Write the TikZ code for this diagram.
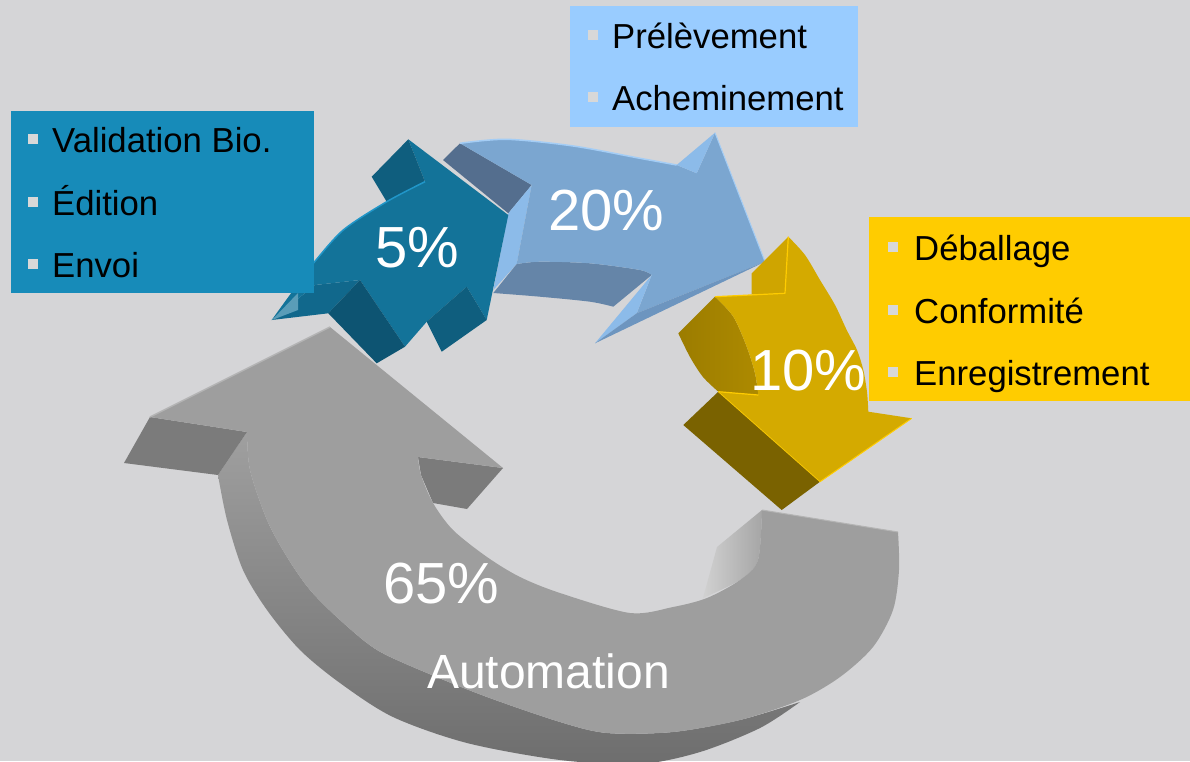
\documentclass[tikz,border=0pt]{standalone}
\usepackage{fontspec}
\setmainfont{Liberation Sans}
\definecolor{bg}{HTML}{D5D5D7}
\definecolor{tealbox}{HTML}{178BB9}
\definecolor{bluebox}{HTML}{99CCFF}
\definecolor{yelbox}{HTML}{FFCC00}
\definecolor{bul}{HTML}{D8D8D8}
\definecolor{gfront}{HTML}{9E9E9E}
\definecolor{gdark}{HTML}{7B7B7B}
\definecolor{gedge}{HTML}{B4B4B4}
\definecolor{tfront}{HTML}{137399}
\definecolor{tdark}{HTML}{0F5E7E}
\definecolor{tdarker}{HTML}{0D5472}
\definecolor{twall}{HTML}{11688C}
\definecolor{tlight}{HTML}{2196C8}
\definecolor{bfront}{HTML}{7BA6D0}
\definecolor{bslate}{HTML}{546E8E}
\definecolor{blight}{HTML}{8CBBE9}
\definecolor{bwall}{HTML}{6585A8}
\definecolor{bband}{HTML}{6D95BF}
\definecolor{bedge}{HTML}{A4CDF5}
\definecolor{yfront}{HTML}{D4AA00}
\definecolor{ynotch}{HTML}{CFA500}
\definecolor{ydark}{HTML}{7A6200}
\definecolor{ywall}{HTML}{AD8A00}
\definecolor{yedge}{HTML}{FFCC00}
\tikzset{
  itemtext/.style={anchor=base west, inner sep=0pt, text=black, font=\fontsize{34.7}{40}\selectfont},
  pcttext/.style={anchor=base west, inner sep=0pt, text=white, font=\fontsize{58}{60}\selectfont},
  autotext/.style={anchor=base west, inner sep=0pt, text=white, font=\fontsize{48}{52}\selectfont},
  bulletsq/.style={fill=bul},
}
\begin{document}
\begin{tikzpicture}[x=1pt,y=-1pt,line join=round]
\useasboundingbox (0,0) rectangle (1190,761);
\fill[bg] (0,0) rectangle (1190,761);

% ---------------- gray arrow (65%) ----------------
\shade[top color=gray!75, middle color=black!60, bottom color=black!57]
  (247,432) -- (218,475) -- plot[smooth] coordinates {(218,475) (227,520) (243,570) (267,610) (300,650) (340,683) (393,717) (467,743) (560,760) (640,764) (700,752) (760,728) (800,702)}
  -- plot[smooth] coordinates {(800,702) (740,720) (673,732) (607,733) (560,722) (487,697) (427,673) (377,650) (340,620) (310,590) (287,557) (267,520) (250,470) (247,432)} -- cycle;
\fill[gdark] (150,417) -- (247,432) -- (218,475) -- (124,463) -- cycle;
\fill[gdark] (418,457) -- (503,468) -- (467,509) -- (433,503) -- (421,475) -- cycle;
\shade[left color=black!18, right color=black!35]
  (762,510) -- (717,547) -- (703,598) -- plot[smooth] coordinates {(703,598) (740,580) (758,560) (762,510)} -- cycle;
\fill[gfront] (330,327) -- (503,468) -- (418,457)
  -- plot[smooth] coordinates {(418,457) (421,475) (433,503) (453,530) (487,557) (520,577) (560,593) (630,613) (673,607) (707,598) (740,580) (758,560) (762,510)}
  -- (898,532)
  -- plot[smooth] coordinates {(898,532) (899,570) (893,610) (873,647) (840,677) (800,700) (740,720) (673,732) (607,733) (560,722) (487,697) (427,673) (377,650) (340,620) (310,590) (287,557) (267,520) (250,470) (247,432)}
  -- (150,417) -- cycle;
\draw[gedge, line width=1.5pt] (150,417) -- (330,327);
\draw[gedge, line width=1pt] (762,510) -- (898,532);

% ---------------- blue arrow (20%) ----------------
\fill[bslate] (460,143.3) -- (531.7,185) -- (508.3,213.3) -- (443,160) -- cycle;
\fill[blight] (531.7,185) -- (516.7,264) -- (493.3,290) -- (508.3,213.3) -- cycle;
\fill[bwall] (516.7,264) -- plot[smooth] coordinates {(516.7,264) (540,261.7) (590,263.3) (640,270) (651.7,275)}
  -- (613.3,306.7) -- plot[smooth] coordinates {(613.3,306.7) (590,301.7) (540,296.7) (493.3,293)} -- cycle;
\fill[bfront] (460,143.3) -- plot[smooth] coordinates {(460,143.3) (506.7,139.3) (573.3,146) (640,158.3) (676.7,165)}
  -- (696.7,173.3) -- (715,132.7) -- (765,261.7) -- (636.7,313.3) -- (651.7,275)
  -- plot[smooth] coordinates {(651.7,275) (640,270) (590,263.3) (540,261.7) (516.7,264)}
  -- (531.7,185) -- cycle;
\fill[blight] (676.7,165) -- (715,132.7) -- (696.7,173.3) -- cycle;
\fill[blight] (651.7,275) -- (636.7,313.3) -- (595,343.3) -- cycle;
\fill[bband] (595,343.3) -- (636.7,313.3) -- (765,261.7) -- cycle;
\draw[bedge, line width=1.5pt] plot[smooth] coordinates {(460,143.3) (506.7,139.3) (573.3,146) (640,158.3) (676.7,165)};
\draw[bedge, line width=1pt] (715,132.7) -- (765,261.7);

% ---------------- teal arrow (5%) ----------------
\fill[twall] (271.7,320) -- (315,285) -- (360,280) -- (328.3,313.3) -- cycle;
\fill[tfront] (271.7,320) -- plot[smooth] coordinates {(271.7,320) (313.3,263.3) (343.3,230) (386.7,201.7) (425,181.7)}
  -- (408.3,139.3) -- (508.3,215) -- (486.7,320) -- (466.7,286.7) -- (426.7,321.7) -- (405,346.7) -- (360,280) -- (315,285) -- cycle;
\fill[tdark] (371.7,176.7) -- (408.3,139.3) -- (425,181.7) -- (386.7,201.7) -- cycle;
\fill[tdarker] (328.3,313.3) -- (360,280) -- (405,346.7) -- (376.7,363.3) -- cycle;
\fill[tdark] (426.7,321.7) -- (466.7,286.7) -- (486.7,320) -- (441.7,351.7) -- cycle;
\fill[tfront!70!white] (272,320) -- (298,293) -- (298,310) -- cycle;
\draw[tlight, line width=1.5pt] plot[smooth] coordinates {(300,280) (313.3,263.3) (343.3,230) (386.7,201.7) (425,181.7)};

% ---------------- yellow arrow (10%) ----------------
\shade[left color=ywall!90!black, right color=ywall]
  (678.3,333.3) -- (715,296.7) -- plot[smooth] coordinates {(715,296.7) (733.3,316.7) (746.7,346.7) (755,373.3) (758.3,395)}
  -- (718.3,391.7) -- plot[smooth] coordinates {(718.3,391.7) (703,377) (690,357) (678.3,333.3)} -- cycle;
\fill[ydark] (683.3,425) -- (718.3,391.7) -- (820,481.7) -- (781.7,510) -- cycle;
\fill[ynotch] (751.7,273.3) -- (788.3,236.7) -- (785,293.3) -- (751.7,294.5) -- cycle;
\fill[yfront] (715,296.7) -- (785,293.3) -- (788.3,236.7)
  -- plot[smooth] coordinates {(788.3,236.7) (805,255) (820,280) (835,305) (846.7,330) (857,350) (863.3,370) (867,392) (868.3,411.7)}
  -- (911.7,418.3) -- (820,481.7) -- (718.3,391.7) -- (758.3,395)
  -- plot[smooth] coordinates {(758.3,395) (755,373.3) (746.7,346.7) (733.3,316.7) (715,296.7)} -- cycle;
\draw[yedge, line width=1.2pt] (715,296.7) -- (785,293.3) -- (788.3,236.7);
\draw[yedge, line width=1.2pt] (718.3,391.7) -- (758.3,395);
\draw[yedge, line width=1pt] (820,481.7) -- (911.7,418.3);
\draw[yedge!80!yfront, line width=0.8pt] (718.3,391.7) -- (820,481.7);

% ---------------- labels on arrows ----------------
\node[pcttext] (p5) at (375,267) {5\%};
\node[pcttext] (p20) at (548,230) {20\%};
\node[pcttext] (p10) at (750,390) {10\%};
\node[pcttext] (p65) at (383,603) {65\%};
\node[autotext] (auto) at (427,688) {Automation};

% ---------------- text boxes ----------------
\fill[tealbox] (11,111) rectangle (314,293);
\fill[bulletsq] (28,134) rectangle (38,144);
\fill[bulletsq] (28,197) rectangle (38,207);
\fill[bulletsq] (28,259) rectangle (38,269);
\node[itemtext] (v1) at (52,152) {Validation Bio.};
\node[itemtext] (v2) at (52,215) {Édition};
\node[itemtext] (v3) at (52,277) {Envoi};

\fill[bluebox] (570,6) rectangle (858,127);
\fill[bulletsq] (588,30) rectangle (598,40);
\fill[bulletsq] (588,92) rectangle (598,102);
\node[itemtext] (b1) at (612,48) {Prélèvement};
\node[itemtext] (b2) at (612,110) {Acheminement};

\fill[yelbox] (869,217) rectangle (1190,401);
\fill[bulletsq] (888,242) rectangle (898,252);
\fill[bulletsq] (888,305) rectangle (898,315);
\fill[bulletsq] (888,367) rectangle (898,377);
\node[itemtext] (y1) at (914,260) {Déballage};
\node[itemtext] (y2) at (914,323) {Conformité};
\node[itemtext] (y3) at (914,385) {Enregistrement};
\end{tikzpicture}
\end{document}
